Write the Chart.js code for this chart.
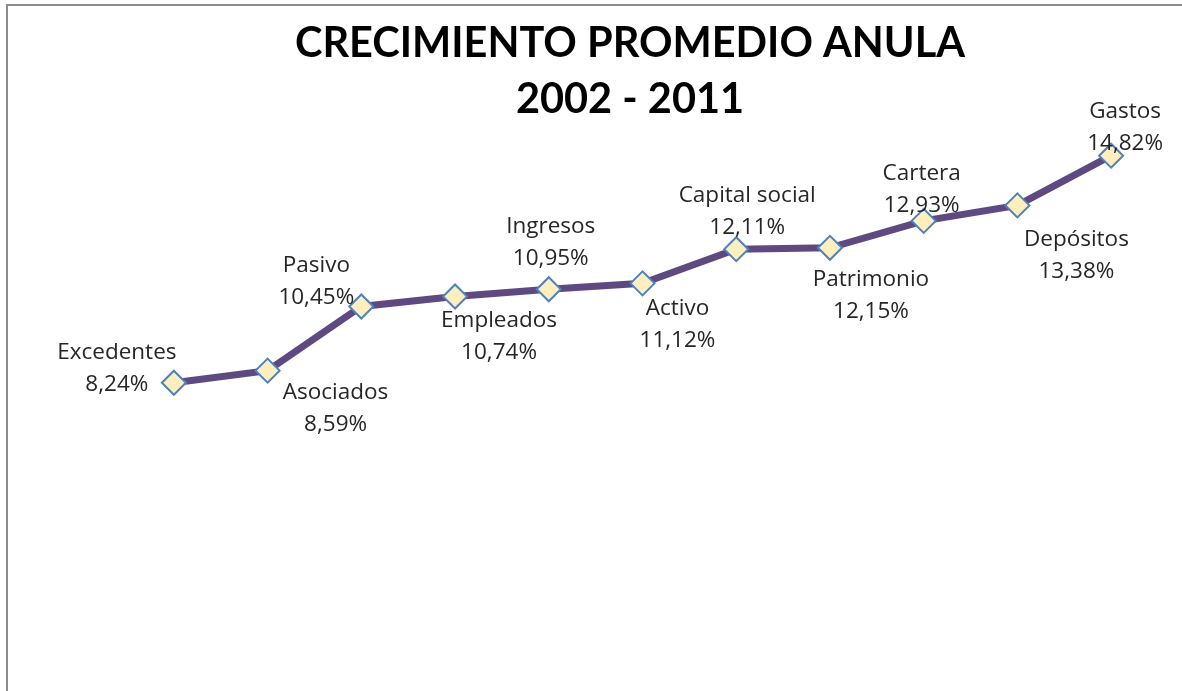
<!DOCTYPE html>
<html>
<head>
<meta charset="utf-8">
<script src="https://cdn.jsdelivr.net/npm/chart.js@4"></script>
<style>
  html, body { margin: 0; padding: 0; background: #fff; }
  #wrap { position: relative; width: 1182px; height: 691px; overflow: hidden; }
  #frame { position: absolute; left: 6px; top: 4px; width: 1300px; height: 800px;
           border-left: 2px solid #8c8c8c; border-top: 2px solid #8c8c8c; }
  canvas { position: absolute; left: 0; top: 0; }
</style>
</head>
<body>
<div id="wrap">
  <div id="frame"></div>
  <canvas id="chart" width="1182" height="691"></canvas>
</div>
<script>
// Crecimiento promedio anual por rubro, 2002 - 2011 (%)
const categories = ['Excedentes', 'Asociados', 'Pasivo', 'Empleados', 'Ingresos', 'Activo',
                    'Capital social', 'Patrimonio', 'Cartera', 'Depósitos', 'Gastos'];
const growth = [8.24, 8.59, 10.45, 10.74, 10.95, 11.12, 12.11, 12.15, 12.93, 13.38, 14.82];
const titleLines = ['CRECIMIENTO PROMEDIO ANULA', '2002 - 2011'];

// where each two-line label sits relative to its point
const labelOffsets = [[-57, -14], [68, 38], [-45, -25], [44, 40], [2, -47], [35, 41],
                      [11, -38], [41, 48], [-2, -31], [59, 50], [14, -28]];

const LABEL_FONT = "22.5px 'Open Sans', 'Noto Sans', sans-serif";
const TITLE_FONT = "bold 41.5px Lato, 'Noto Sans', sans-serif";

function fmt(v) {
    return v.toFixed(2).replace('.', ',') + '%';
}

const titlePlugin = {
    id: 'titleText',
    afterDraw(chart) {
        const ctx = chart.ctx;
        ctx.save();
        ctx.fillStyle = '#000';
        ctx.font = TITLE_FONT;
        ctx.textAlign = 'center';
        ctx.textBaseline = 'middle';
        ctx.fillText(titleLines[0], 630, 44);
        ctx.fillText(titleLines[1], 630, 100);
        ctx.restore();
    }
};

const pointLabels = {
    id: 'pointLabels',
    afterDatasetsDraw(chart) {
        const ctx = chart.ctx;
        const meta = chart.getDatasetMeta(0);
        ctx.save();
        ctx.fillStyle = '#262626';
        ctx.font = LABEL_FONT;
        ctx.textAlign = 'center';
        ctx.textBaseline = 'middle';
        meta.data.forEach((pt, i) => {
            const [dx, dy] = labelOffsets[i];
            const cx = pt.x + dx, cy = pt.y + dy;
            ctx.fillText(categories[i], cx, cy - 16);
            ctx.fillText(fmt(growth[i]), cx, cy + 16);
        });
        ctx.restore();
    }
};

new Chart(document.getElementById('chart'), {
    type: 'line',
    data: {
        labels: categories,
        datasets: [{
            data: growth,
            borderColor: '#5e4a80',
            borderWidth: 7,
            tension: 0,
            pointStyle: 'rectRot',
            pointRadius: 12,
            pointBackgroundColor: '#ffefbf',
            pointBorderColor: '#4f81bd',
            pointBorderWidth: 2
        }]
    },
    options: {
        responsive: false,
        animation: false,
        layout: { padding: { top: 115, bottom: 24, left: 127, right: 24 } },
        plugins: {
            legend: { display: false },
            tooltip: { enabled: false },
            title: { display: false }
        },
        scales: {
            x: { display: false, offset: true },
            y: { display: false, min: 0, max: 16 }
        }
    },
    plugins: [pointLabels, titlePlugin]
});
</script>
</body>
</html>
